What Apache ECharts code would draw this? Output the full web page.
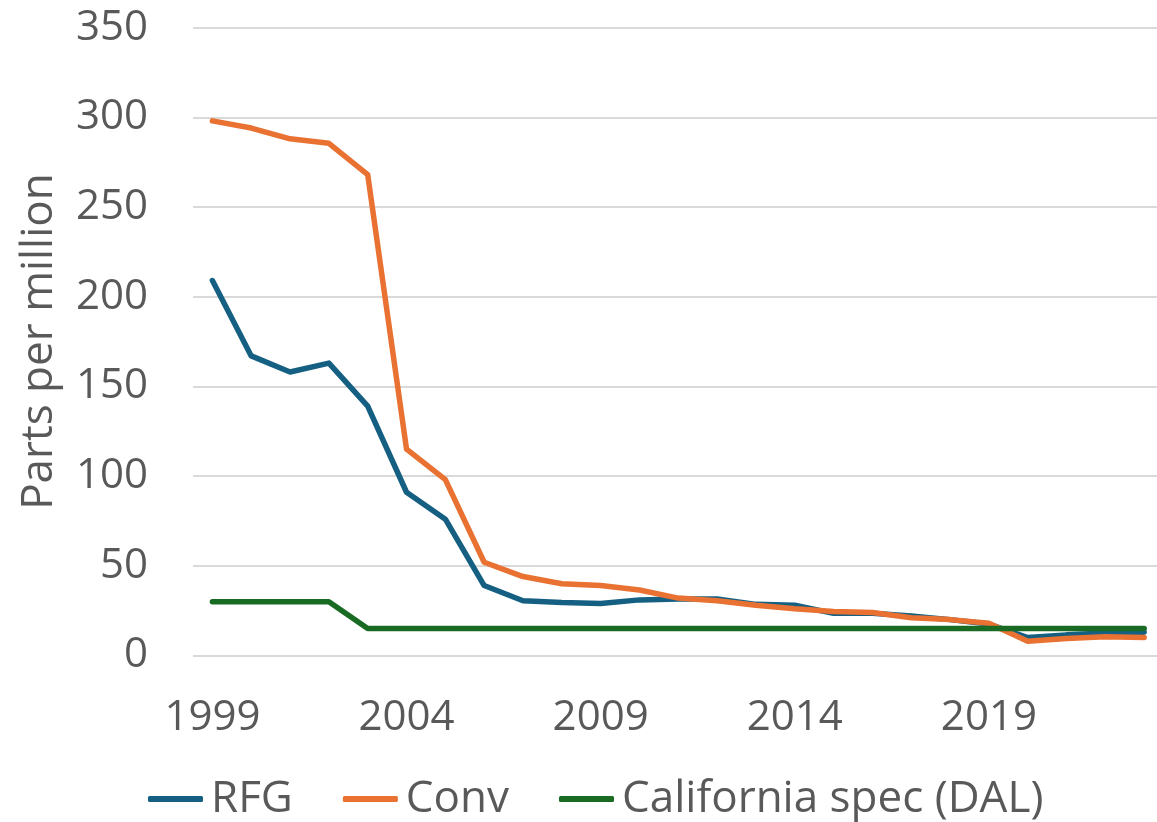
<!DOCTYPE html>
<html>
<head>
<meta charset="utf-8">
<script src="https://cdn.jsdelivr.net/npm/echarts@6/dist/echarts.min.js"></script>
<style>
  html, body { margin: 0; padding: 0; background: #fff; }
  #chart { width: 1157px; height: 822px; }
</style>
</head>
<body>
<div id="chart"></div>
<script>
// sulfur content, parts per million
const years = [1999, 2000, 2001, 2002, 2003, 2004, 2005, 2006, 2007, 2008, 2009, 2010,
  2011, 2012, 2013, 2014, 2015, 2016, 2017, 2018, 2019, 2020, 2021, 2022, 2023];
const rfg = [209, 167, 158, 163, 139, 91, 76, 39, 30.5, 29.5, 29, 31,
  31.5, 31.5, 28.5, 28, 23.5, 23.5, 22, 20, 17.5, 10, 11.5, 12.5, 13];
const conv = [298, 294, 288, 285.5, 268, 115, 98, 52, 44, 40, 39, 36.5,
  32, 30.5, 28, 26, 24.5, 24, 21, 20, 18, 8, 9.5, 10.5, 10];
const dal = [30, 30, 30, 30, 15, 15, 15, 15, 15, 15, 15, 15,
  15, 15, 15, 15, 15, 15, 15, 15, 15, 15, 15, 15, 15];
const yearLabels = [1999, 2004, 2009, 2014, 2019];

const font = '"Open Sans", "Liberation Sans", sans-serif';
const grey = '#595959';

function pairs(vals) {
  return years.map((y, i) => [y, vals[i]]);
}

function line(name, vals, color) {
  return {
    name: name,
    type: 'line',
    data: pairs(vals),
    showSymbol: false,
    lineStyle: { color: color, width: 5.5, cap: 'round', join: 'round' },
    itemStyle: { color: color }
  };
}

let myChart = echarts.init(document.getElementById('chart'), null, { renderer: 'canvas' });

let option = {
  animation: false,
  backgroundColor: '#fff',
  grid: { left: 193, right: 0, top: 27.6, bottom: 166.5, containLabel: false },
  xAxis: {
    type: 'value',
    min: 1998.5,
    max: 2023.33,
    axisLine: { show: false },
    axisTick: { show: false },
    splitLine: { show: false },
    axisLabel: {
      customValues: yearLabels,
      formatter: v => String(v),
      color: grey,
      fontFamily: font,
      fontSize: 42,
      margin: 42
    }
  },
  yAxis: {
    type: 'value',
    min: 0,
    max: 350,
    interval: 50,
    name: 'Parts per million',
    nameLocation: 'middle',
    nameGap: 132,
    nameTextStyle: { color: grey, fontFamily: font, fontSize: 44 },
    axisLine: { show: false },
    axisTick: { show: false },
    splitLine: { lineStyle: { color: '#D9D9D9', width: 2 } },
    axisLabel: { color: grey, fontFamily: font, fontSize: 42, margin: 45 }
  },
  legend: {
    left: 148,
    top: 777,
    padding: 0,
    icon: 'roundRect',
    itemWidth: 55,
    itemHeight: 6,
    itemGap: 50,
    textStyle: { color: grey, fontFamily: font, fontSize: 44, padding: [0, 0, 0, 3] },
    data: ['RFG', 'Conv', 'California spec (DAL)']
  },
  series: [
    line('RFG', rfg, '#156082'),
    line('Conv', conv, '#E97132'),
    line('California spec (DAL)', dal, '#196B24')
  ]
};

myChart.setOption(option);
</script>
</body>
</html>
